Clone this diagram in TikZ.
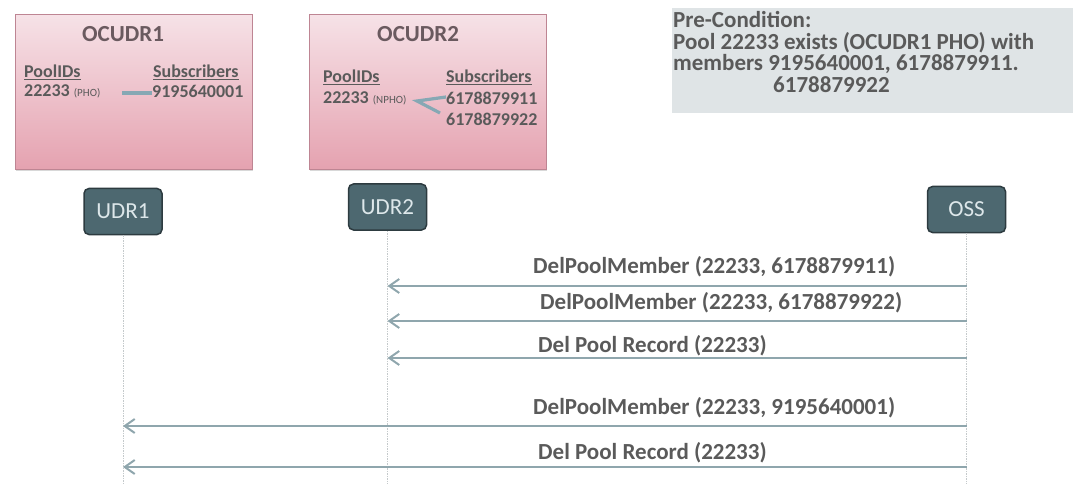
\documentclass[tikz,border=0pt]{standalone}
\usepackage{fontspec}
\setmainfont{Carlito}
\usetikzlibrary{arrows.meta,shadows,calc}
\definecolor{pinktop}{HTML}{F6E2E7}
\definecolor{pinkbot}{HTML}{E5A2B0}
\definecolor{pinkline}{HTML}{BE8593}
\definecolor{titlecol}{HTML}{6A5A5F}
\definecolor{txtcol}{HTML}{5A5A5A}
\definecolor{nodefill}{HTML}{4D6870}
\definecolor{nodeline}{HTML}{2D3B40}
\definecolor{nodetxt}{HTML}{DDE7EA}
\definecolor{precfill}{HTML}{DFE4E6}
\definecolor{msgcol}{HTML}{8FA6AD}
\definecolor{linkcol}{HTML}{86A8B4}
\definecolor{lifecol}{HTML}{C4C9CB}
\newcommand{\tinytxt}[1]{{\fontsize{11}{12}\selectfont\mdseries #1}}
\tikzset{
  dbbox/.style={draw=pinkline, line width=0.8pt, top color=pinktop, bottom color=pinkbot,
    minimum width=237pt, minimum height=155pt, anchor=north west, inner sep=0pt,
    drop shadow={shadow xshift=1pt, shadow yshift=-2pt, fill=black!30}},
  actor/.style={draw=nodeline, line width=1.5pt, fill=nodefill, rounded corners=5pt,
    minimum width=78pt, minimum height=46pt, text=nodetxt, font=\fontsize{23}{26}\selectfont, inner sep=0pt},
  title/.style={anchor=base west, inner sep=0pt, text=titlecol, font=\fontsize{23}{26}\selectfont\bfseries},
  small/.style={anchor=base west, inner sep=0pt, text=txtcol, font=\fontsize{18}{20}\selectfont\bfseries},
  big/.style={anchor=base west, inner sep=0pt, text=txtcol, font=\fontsize{23}{26}\selectfont\bfseries},
  link/.style={draw=linkcol, line width=3.2pt},
  lifeline/.style={draw=lifecol, line width=0.7pt, dash pattern=on 1.5pt off 1pt},
  msg/.style={draw=msgcol, line width=2.2pt, -{Straight Barb[length=10pt,width=14pt,line width=2pt]}}
}
\begin{document}
\begin{tikzpicture}[x=1pt,y=-1pt]
\useasboundingbox (0,0) rectangle (1077,484);
% database boxes
\node[dbbox] (ocudr1) at (15,14) {};
\node[dbbox] (ocudr2) at (309,14) {};
\node[title] (t1) at (82,42) {OCUDR1};
\node[title] (t2) at (377,42) {OCUDR2};
% OCUDR1 contents
\node[small] (p1) at (24,78) {\underline{PoolIDs}};
\node[small] (id1) at (24,97) {22233 \tinytxt{(PHO)}};
\node[small] (s1) at (153,78) {\underline{Subscribers}};
\node[small] (n1) at (152,98) {9195640001};
\coordinate (c1a) at (122,93);
\draw[link] (c1a) -- (n1.west |- c1a);
% OCUDR2 contents
\node[small] (p2) at (323,83) {\underline{PoolIDs}};
\node[small] (id2) at (323,104) {22233 \tinytxt{(NPHO)}};
\node[small] (s2) at (446,83) {\underline{Subscribers}};
\node[small] (n2) at (446,105) {6178879911};
\node[small] (n3) at (446,125.5) {6178879922};
\coordinate (apex) at (417,101);
\draw[link, line join=miter] (n2.west |- 0,97) -- (apex) -- ([xshift=-6pt]n3.west |- 0,113);
% precondition
\node[fill=precfill, anchor=north west, minimum width=401pt, minimum height=105pt, inner sep=0pt] (pre) at (672,8) {};
\node[big] (pc1) at (673,27.5) {Pre-Condition:};
\node[big] (pc2) at (673,49.2) {Pool 22233 exists (OCUDR1 PHO) with};
\node[big] (pc3) at (673,70.9) {members 9195640001, 6178879911.};
\node[big] (pc4) at (773,92.6) {6178879922};
% actors
\node[actor] (udr1) at (123,211.5) {UDR1};
\node[actor] (udr2) at (387.5,207) {UDR2};
\node[actor] (oss) at (966.5,209.5) {OSS};
\coordinate (bot) at (0,484);
\draw[lifeline] (udr1.south) -- (udr1.south |- bot);
\draw[lifeline] (udr2.south) -- (udr2.south |- bot);
\draw[lifeline] (oss.south) -- (oss.south |- bot);
% messages
\coordinate (m1) at (0,286);
\coordinate (m2) at (0,321);
\coordinate (m3) at (0,358);
\coordinate (m4) at (0,426);
\coordinate (m5) at (0,467);
\draw[msg] (m1 -| oss) -- (m1 -| udr2);
\draw[msg] (m2 -| oss) -- (m2 -| udr2);
\draw[msg] (m3 -| oss) -- (m3 -| udr2);
\draw[msg] (m4 -| oss) -- (m4 -| udr1);
\draw[msg] (m5 -| oss) -- (m5 -| udr1);
\node[big] (l1) at (533,273.5) {DelPoolMember (22233, 6178879911)};
\node[big] (l2) at (540,309) {DelPoolMember (22233, 6178879922)};
\node[big] (l3) at (538,352.5) {Del Pool Record (22233)};
\node[big] (l4) at (533,414.5) {DelPoolMember (22233, 9195640001)};
\node[big] (l5) at (538,459.5) {Del Pool Record (22233)};
\end{tikzpicture}
\end{document}
